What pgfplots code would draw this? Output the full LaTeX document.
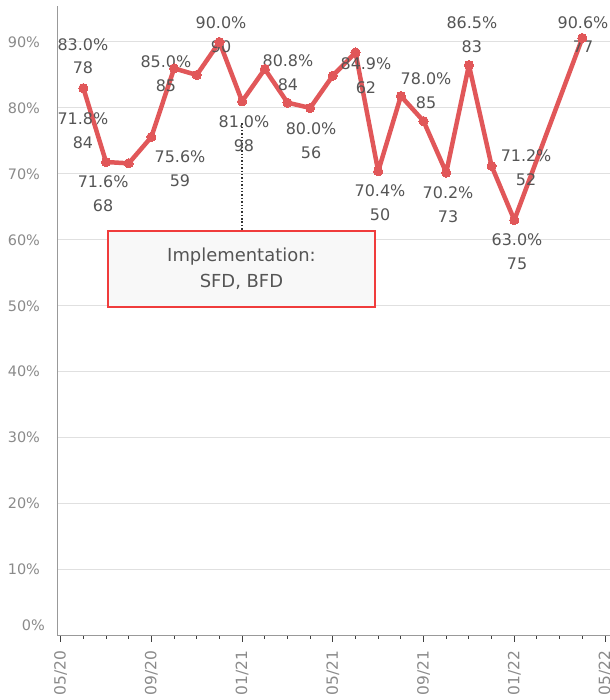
\documentclass[border=0pt]{standalone}
\usepackage{fontspec}
\setmainfont{DejaVu Sans}
\usepackage{pgfplots}
\usepackage{pgfplotstable}
\pgfplotsset{compat=1.18}

\definecolor{linered}{HTML}{E15759}
\definecolor{labelgray}{HTML}{555555}
\definecolor{tickgray}{HTML}{8A8A8A}
\definecolor{gridgray}{HTML}{E0E0E0}
\definecolor{axisgray}{HTML}{999999}
\definecolor{boxred}{HTML}{F03C3C}
\definecolor{boxfill}{HTML}{F8F8F8}

% monthly rate (%), month index 0 = May 2020
\pgfplotstableread{
m   rate
1   83.0
2   71.8
3   71.6
4   75.6
5   86.0
6   85.0
7   90.0
8   81.0
9   85.9
10  80.8
11  80.0
12  84.9
13  88.4
14  70.4
15  81.8
16  78.0
17  70.2
18  86.5
19  71.2
20  63.0
23  90.6
}\ratetable

% two-line value label: x, y, rate, count
\newcommand{\vlab}[4]{%
  \node[vl] at (axis cs:#1,#2) {#3\%};
  \node[vl] at ([yshift=-23.5bp]axis cs:#1,#2) {#4};
}

\begin{document}
\begin{tikzpicture}[vl/.style={font=\fontsize{16}{18}\selectfont, text=labelgray, inner sep=0pt}]
\path[use as bounding box] (-57.5bp,-64.5bp) rectangle (552.5bp,635.5bp);
\begin{axis}[
  scale only axis, width=552.5bp, height=629.5bp,
  xmin=-0.14, xmax=24.22, ymin=0, ymax=95.46,
  axis x line*=bottom, axis y line*=left,
  axis line style={axisgray, line width=1bp, -},
  xtick={0,4,...,24},
  xticklabels={05/20,09/20,01/21,05/21,09/21,01/22,05/22},
  minor xtick={0,...,24},
  tick align=outside,
  major tick length=6bp, minor tick length=3bp,
  xtick style={black!75, line width=1bp},
  x tick label style={rotate=90, anchor=east, text=tickgray, font=\fontsize{15.5}{17}\selectfont},
  xticklabel shift=6bp,
  ytick={10,20,...,90},
  yticklabels={10\%,20\%,30\%,40\%,50\%,60\%,70\%,80\%,90\%},
  ytick style={draw=none},
  y tick label style={text=tickgray, font=\fontsize{14.5}{16}\selectfont},
  yticklabel shift=8bp,
  ymajorgrids, grid style={gridgray, line width=1bp},
  clip=false,
]
% annotation box and its leader
\draw[boxred, fill=boxfill, line width=1.2bp] (axis cs:2.09,49.8) rectangle (axis cs:13.86,61.34);
\draw[black!80, dotted, line width=1.4bp] (axis cs:7.99,77.7) -- (axis cs:7.99,61.34);
\node[font=\fontsize{18}{20}\selectfont, text=labelgray, inner sep=0pt] at (axis cs:7.97,57.4) {Implementation:};
\node[font=\fontsize{18}{20}\selectfont, text=labelgray, inner sep=0pt] at (axis cs:7.97,53.6) {SFD, BFD};

\addplot[linered, line width=4.5bp, line join=round, mark=*, mark size=4.6bp, mark options={fill=linered, draw=linered, line width=0pt}]
  table[x=m, y=rate] {\ratetable};

\node[anchor=east, text=tickgray, font=\fontsize{14.5}{16}\selectfont, inner sep=0pt] at ([xshift=-12.5bp, yshift=10bp]rel axis cs:0,0) {0\%};

\vlab{0.98}{89.6}{83.0}{78}
\vlab{0.98}{78.3}{71.8}{84}
\vlab{1.87}{68.8}{71.6}{68}
\vlab{4.64}{87.0}{85.0}{85}
\vlab{5.26}{72.6}{75.6}{59}
\vlab{7.07}{92.9}{90.0}{90}
\vlab{8.08}{77.9}{81.0}{98}
\vlab{10.02}{87.1}{80.8}{84}
\vlab{11.04}{76.8}{80.0}{56}
\vlab{13.46}{86.7}{84.9}{62}
\vlab{14.08}{67.4}{70.4}{50}
\vlab{16.11}{84.4}{78.0}{85}
\vlab{17.08}{67.1}{70.2}{73}
\vlab{18.13}{92.9}{86.5}{83}
\vlab{20.52}{72.7}{71.2}{52}
\vlab{20.12}{60.0}{63.0}{75}
\vlab{23.03}{92.9}{90.6}{77}
\end{axis}
\end{tikzpicture}
\end{document}
